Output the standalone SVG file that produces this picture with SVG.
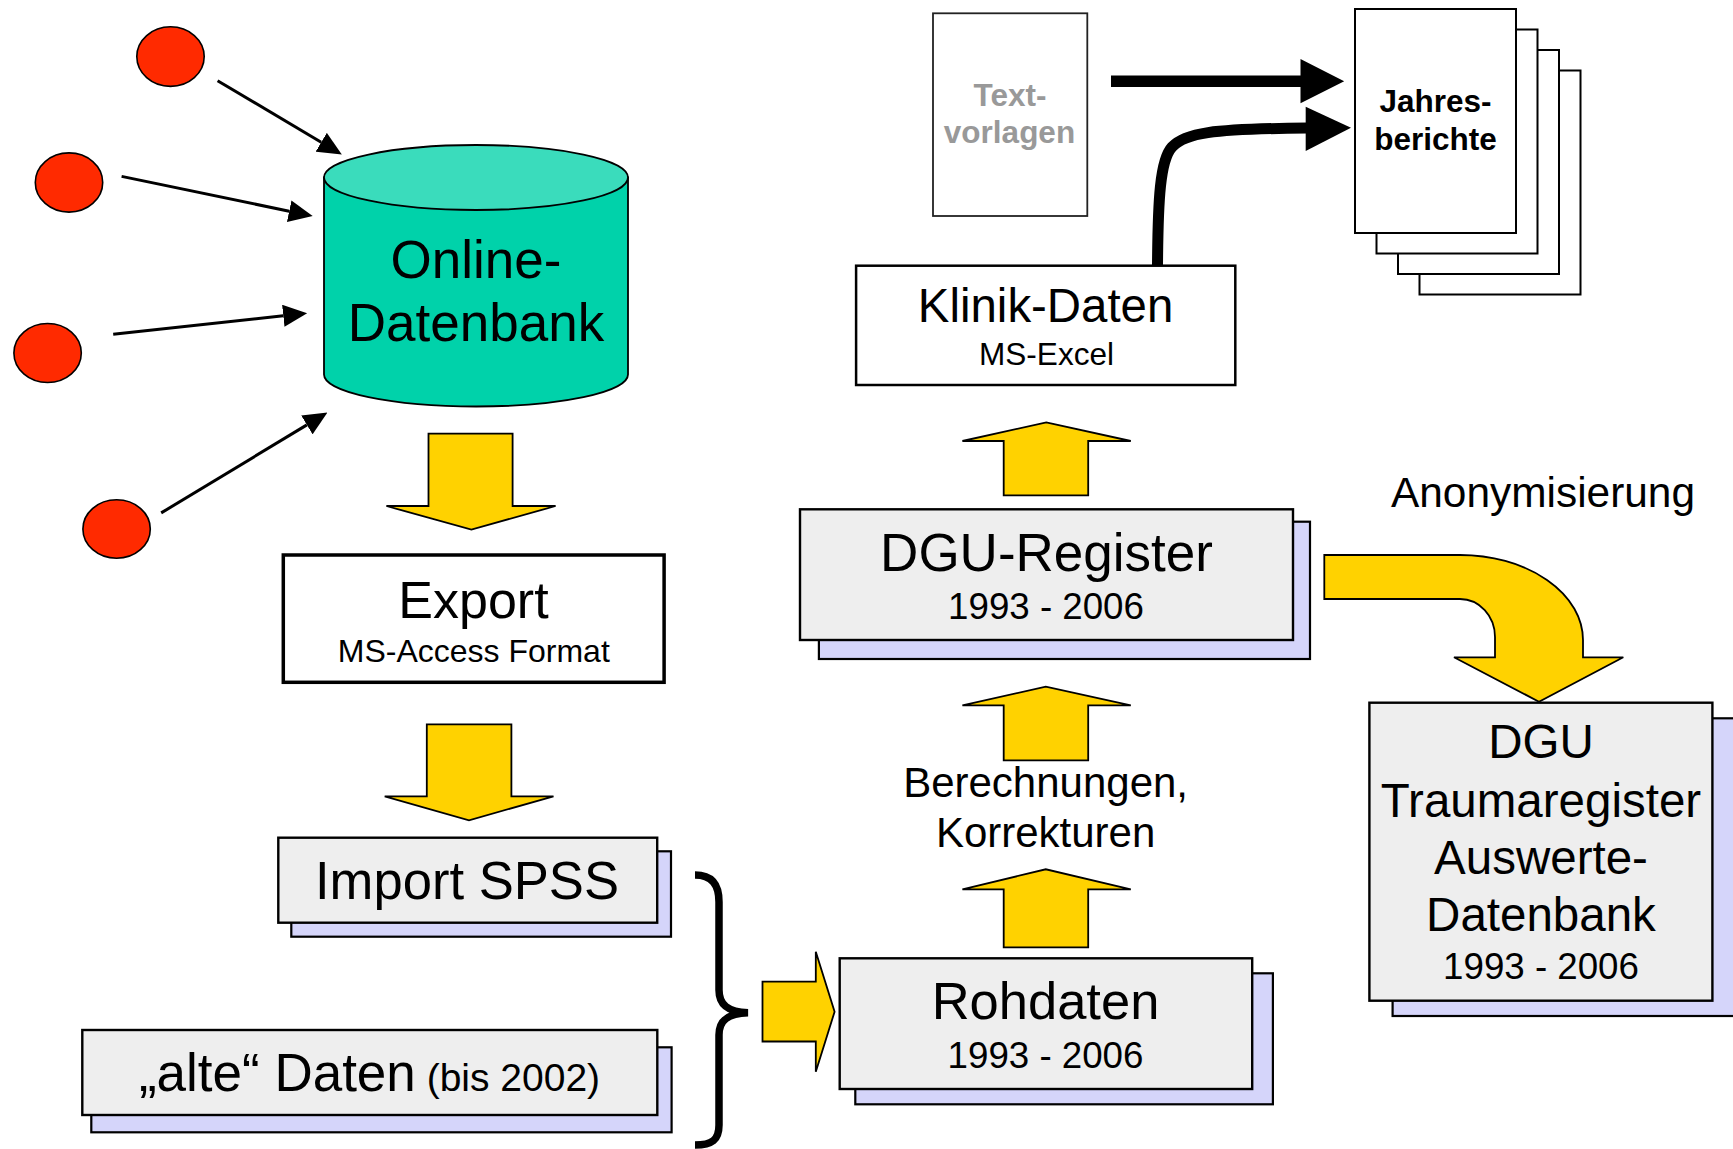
<svg xmlns="http://www.w3.org/2000/svg" width="1733" height="1149" viewBox="0 0 1733 1149">
<defs>
<style>
text{font-family:"Liberation Sans",Arial,sans-serif;fill:#000;text-anchor:middle}
.dot{fill:#FF2A00;stroke:#000;stroke-width:1.6}
.thin{stroke:#000;stroke-width:3;fill:none}
.blk{fill:#FFD200;stroke:#000;stroke-width:1.8;stroke-linejoin:miter}
.front{fill:#EEEEEE;stroke:#000;stroke-width:2.4}
.shadow{fill:#D5D5FA;stroke:#000;stroke-width:2.2}
.plain{fill:#fff;stroke:#000;stroke-width:2.5}
.page{fill:#fff;stroke:#000;stroke-width:2}
.bold{font-weight:bold}
</style>
<marker id="ah" viewBox="0 0 24 22" refX="0" refY="11" markerWidth="24" markerHeight="22" markerUnits="userSpaceOnUse" orient="auto">
<path d="M0,0 L24,11 L0,22 Z" fill="#000"/>
</marker>
</defs>
<rect width="1733" height="1149" fill="#fff"/>

<g id="connectors">
<line class="thin" x1="217.6" y1="80.7" x2="321.2" y2="142.3" marker-end="url(#ah)"/>
<line class="thin" x1="121.6" y1="176.4" x2="289.2" y2="211.2" marker-end="url(#ah)"/>
<line class="thin" x1="113.2" y1="334.3" x2="283.3" y2="315.8" marker-end="url(#ah)"/>
<line class="thin" x1="161.2" y1="512.9" x2="306.9" y2="424.9" marker-end="url(#ah)"/>
<path class="blk" d="M428.5,433.6 L512.6,433.6 L512.6,506 L555.6,506 L471.4,529.6 L386.4,506 L428.5,506 Z"/>
<path class="blk" d="M426.8,724.3 L511.4,724.3 L511.4,796.3 L553.5,796.3 L469,820.3 L384.7,796.3 L426.8,796.3 Z"/>
<path class="blk" d="M762.5,981.7 L815.8,981.7 L815.8,951.7 L834.6,1011.7 L815.8,1071.7 L815.8,1041.5 L762.5,1041.5 Z"/>
<path class="blk" d="M1003.7,947.3 L1003.7,889.3 L962.4,889.3 L1045.8,869.3 L1130.8,889.3 L1088.2,889.3 L1088.2,947.3 Z"/>
<path class="blk" d="M1003.7,760.3 L1003.7,705.3 L962.4,705.3 L1045.8,686.7 L1130.8,705.3 L1088.2,705.3 L1088.2,760.3 Z"/>
<path class="blk" d="M1003.7,495.3 L1003.7,441 L962.4,441 L1046.3,422.3 L1130.8,441 L1088.2,441 L1088.2,495.3 Z"/>
<path class="blk" d="M1324.3,555 L1460,555 A123,85 0 0 1 1583,640 L1583,657.3 L1623.3,657.3 L1539,701.7 L1454,657.3 L1495,657.3 L1495,637 A35,38 0 0 0 1460,599 L1324.3,599 Z"/>
<path d="M1111,75.5 L1300.5,75.5 L1300.5,59 L1344.2,81.2 L1300.5,103.3 L1300.5,87 L1111,87 Z" fill="#000"/>
<path d="M1157.5,265 C1158,200 1160,160 1172,147 C1185,133 1210,129 1307,128" fill="none" stroke="#000" stroke-width="11"/>
<path d="M1305.7,106.7 L1351,127.7 L1305.7,151 Z" fill="#000"/>
<path d="M695,875 C712,875 719,885 719,902 L719,990 C719,1005 728,1012 748,1012.7 C728,1013.4 719,1020 719,1035 L719,1125 C719,1140 712,1145 695,1145" fill="none" stroke="#000" stroke-width="7.5"/>
</g>

<g id="src1"><ellipse class="dot" cx="170.5" cy="56.6" rx="33.7" ry="29.8"/></g>
<g id="src2"><ellipse class="dot" cx="69" cy="182.5" rx="33.7" ry="29.6"/></g>
<g id="src3"><ellipse class="dot" cx="47.6" cy="353" rx="33.7" ry="29.5"/></g>
<g id="src4"><ellipse class="dot" cx="116.6" cy="529" rx="33.7" ry="29.3"/></g>

<g id="online-db">
<path d="M324,177.5 L324,374.5 A152,32 0 0 0 628,374.5 L628,177.5 Z" fill="#00D2AA" stroke="#000" stroke-width="1.8"/>
<ellipse cx="476" cy="177.5" rx="152" ry="32.5" fill="#3ADCBC" stroke="#000" stroke-width="1.8"/>
<text x="476" y="278" font-size="53">Online-</text>
<text x="476" y="341" font-size="53">Datenbank</text>
</g>

<g id="export">
<rect x="283.3" y="555" width="380.8" height="127.3" fill="#fff" stroke="#000" stroke-width="3.5"/>
<text x="473.5" y="618.3" font-size="52">Export</text>
<text x="473.8" y="661.7" font-size="32" textLength="272" lengthAdjust="spacingAndGlyphs">MS-Access Format</text>
</g>

<g id="import-spss">
<rect class="shadow" x="291.3" y="851.3" width="379.7" height="85.4"/>
<rect class="front" x="278.3" y="837.7" width="378.9" height="85"/>
<text x="467" y="899.3" font-size="53" textLength="304" lengthAdjust="spacingAndGlyphs">Import SPSS</text>
</g>

<g id="alte-daten">
<rect class="shadow" x="91.3" y="1047.3" width="580.3" height="85"/>
<rect class="front" x="82.3" y="1030" width="575" height="85"/>
<text x="369.5" y="1090.7" font-size="53">„alte“ Daten<tspan font-size="39"> (bis 2002)</tspan></text>
</g>

<g id="rohdaten">
<rect class="shadow" x="855.3" y="973.3" width="417.6" height="131"/>
<rect class="front" x="839.7" y="958.3" width="412.5" height="130.7"/>
<text x="1045.5" y="1019.3" font-size="52.5">Rohdaten</text>
<text x="1045.5" y="1068.3" font-size="36.7">1993 - 2006</text>
</g>

<g id="berechnungen">
<text x="1045.6" y="796.7" font-size="42">Berechnungen,</text>
<text x="1045.6" y="846.7" font-size="42">Korrekturen</text>
</g>

<g id="dgu-register">
<rect class="shadow" x="818.9" y="521.7" width="491.1" height="137.3"/>
<rect class="front" x="800" y="509.3" width="493" height="130.7"/>
<text x="1046.5" y="570.7" font-size="53">DGU-Register</text>
<text x="1046" y="619" font-size="36.7">1993 - 2006</text>
</g>

<g id="klinik-daten">
<rect class="plain" x="856.1" y="265.7" width="379.2" height="119.3"/>
<text x="1045.6" y="321.7" font-size="47.4">Klinik-Daten</text>
<text x="1046.5" y="365" font-size="32" textLength="135" lengthAdjust="spacingAndGlyphs">MS-Excel</text>
</g>

<g id="textvorlagen">
<rect x="933" y="13.3" width="154.3" height="202.7" fill="#fff" stroke="#222" stroke-width="1.8"/>
<text class="bold" x="1010" y="106" font-size="31.5" style="fill:#999">Text-</text>
<text class="bold" x="1009.5" y="142.7" font-size="31.5" style="fill:#999">vorlagen</text>
</g>

<g id="jahresberichte">
<rect class="page" x="1419.5" y="70.5" width="161" height="224"/>
<rect class="page" x="1398" y="50" width="161" height="224"/>
<rect class="page" x="1376.5" y="29.5" width="161" height="224"/>
<rect class="page" x="1355" y="9" width="161" height="224"/>
<text class="bold" x="1435.5" y="111.7" font-size="31.5">Jahres-</text>
<text class="bold" x="1435.5" y="150" font-size="31.5">berichte</text>
</g>

<g id="anonymisierung">
<text x="1543" y="507.3" font-size="42.4">Anonymisierung</text>
</g>

<g id="dgu-trauma">
<rect class="shadow" x="1392.6" y="718.3" width="345" height="297.7"/>
<rect class="front" x="1369.4" y="702.7" width="343" height="298"/>
<text x="1541" y="758.3" font-size="47.5">DGU</text>
<text x="1541" y="816.7" font-size="47.5">Traumaregister</text>
<text x="1541" y="874.3" font-size="47.5">Auswerte-</text>
<text x="1541" y="930.7" font-size="47.5">Datenbank</text>
<text x="1541" y="979" font-size="36.7">1993 - 2006</text>
</g>
</svg>
